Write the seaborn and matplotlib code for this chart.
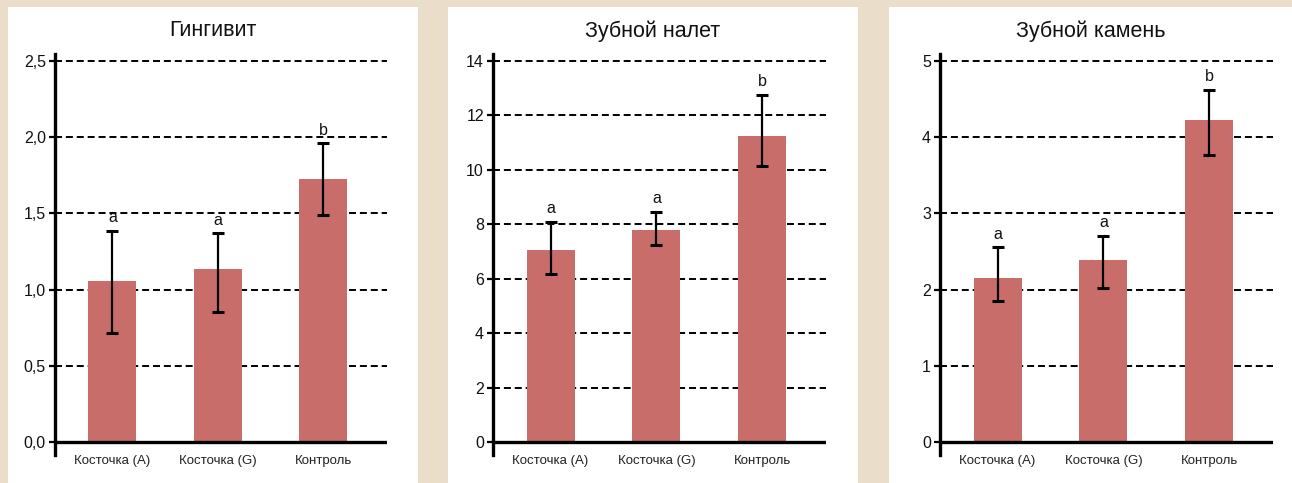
"""Three-panel bar chart: gingivitis, plaque and calculus scores by group."""

import matplotlib

matplotlib.use("Agg")

import matplotlib.pyplot as plt
import pandas as pd
import seaborn as sns
from matplotlib.patches import Rectangle


GROUPS = ["Косточка (A)", "Косточка (G)", "Контроль"]
LETTERS = ["a", "a", "b"]

TITLES = ["Гингивит", "Зубной налет", "Зубной камень"]

GINGIVITIS_MEAN = [1.056, 1.135, 1.726]
GINGIVITIS_LOW = [0.715, 0.85, 1.49]
GINGIVITIS_HIGH = [1.385, 1.37, 1.96]

PLAQUE_MEAN = [7.06, 7.80, 11.25]
PLAQUE_LOW = [6.16, 7.23, 10.14]
PLAQUE_HIGH = [8.09, 8.45, 12.76]

CALCULUS_MEAN = [2.155, 2.39, 4.225]
CALCULUS_LOW = [1.845, 2.015, 3.76]
CALCULUS_HIGH = [2.555, 2.705, 4.62]

GINGIVITIS_TICKS = [0, 0.5, 1.0, 1.5, 2.0, 2.5]
GINGIVITIS_TICKLABELS = ["0,0", "0,5", "1,0", "1,5", "2,0", "2,5"]
PLAQUE_TICKS = [0, 2, 4, 6, 8, 10, 12, 14]
PLAQUE_TICKLABELS = ["0", "2", "4", "6", "8", "10", "12", "14"]
CALCULUS_TICKS = [0, 1, 2, 3, 4, 5]
CALCULUS_TICKLABELS = ["0", "1", "2", "3", "4", "5"]

BG = "#EADDC9"
BAR = "#C86D6A"

W, H = 1292, 483
# white panel boxes (pixel x-ranges) and axis left/right pixel positions
PANEL_X = [(8, 418), (448, 858), (889, 1292)]
AXIS_X = [(55, 387), (493, 826), (940, 1273)]
AX_TOP, AX_BOTTOM, ZERO_Y, TOP_TICK_Y = 54, 455, 442, 61


def draw_panel(ax, title_x, title, mean, low, high, ticks, ticklabels):
    df = pd.DataFrame({"group": GROUPS, "mean": mean, "low": low, "high": high})
    sns.barplot(
        data=df,
        x="group",
        y="mean",
        color=BAR,
        saturation=1,
        width=0.455,
        errorbar=None,
        linewidth=0,
        ax=ax,
    )
    pos = list(range(len(df)))
    yerr = [df["mean"] - df["low"], df["high"] - df["mean"]]
    ax.errorbar(
        pos,
        df["mean"],
        yerr=yerr,
        fmt="none",
        ecolor="black",
        elinewidth=1.6,
        capsize=4.5,
        capthick=2.2,
        zorder=5,
    )
    for x, top, letter in zip(pos, df["high"], LETTERS):
        ax.annotate(
            letter,
            (x, top),
            xytext=(0, 4),
            textcoords="offset points",
            ha="center",
            va="bottom",
            fontsize=11.5,
        )

    # pixel scale: zero line at ZERO_Y, top tick at TOP_TICK_Y
    ymax = ticks[-1]
    ppu = (ZERO_Y - TOP_TICK_Y) / ymax
    ax.set_ylim(-(AX_BOTTOM - ZERO_Y) / ppu, ymax + (TOP_TICK_Y - AX_TOP) / ppu)
    ax.set_xlim(-0.545, 2.605)

    for t in ticks[1:]:
        ax.axhline(t, color="black", lw=1.4, linestyle=(0, (3.6, 2.0)), zorder=0)
    ax.axhline(0, color="black", lw=2.4, zorder=6)

    ax.set_yticks(ticks)
    ax.set_yticklabels(ticklabels)
    ax.tick_params(axis="y", length=4.5, width=1.6, labelsize=11.5, pad=2, direction="out", left=True)
    ax.tick_params(axis="x", length=0, labelsize=9.5, pad=0)
    ax.set_xlabel("")
    ax.set_ylabel("")

    for side in ["top", "right", "bottom"]:
        ax.spines[side].set_visible(False)
    ax.spines["left"].set_linewidth(2.4)
    ax.spines["left"].set_color("black")
    ax.patch.set_alpha(0)

    ax.figure.text(title_x, 1 - 31 / H, title, ha="center", va="center", fontsize=15.5)


def main():
    sns.set_theme(style="white")
    plt.rcParams["font.family"] = ["Liberation Sans", "DejaVu Sans"]
    plt.rcParams["text.color"] = "#111111"
    plt.rcParams["ytick.color"] = "black"
    plt.rcParams["ytick.labelcolor"] = "#111111"
    plt.rcParams["xtick.labelcolor"] = "#222222"

    fig = plt.figure(figsize=(W / 100, H / 100), dpi=100, facecolor=BG)

    for x0, x1 in PANEL_X:
        fig.patches.append(
            Rectangle((x0 / W, 0), (x1 - x0) / W, 1 - 7 / H, transform=fig.transFigure,
                      facecolor="white", edgecolor="none", zorder=-1)
        )

    panels = [
        (GINGIVITIS_MEAN, GINGIVITIS_LOW, GINGIVITIS_HIGH, GINGIVITIS_TICKS, GINGIVITIS_TICKLABELS),
        (PLAQUE_MEAN, PLAQUE_LOW, PLAQUE_HIGH, PLAQUE_TICKS, PLAQUE_TICKLABELS),
        (CALCULUS_MEAN, CALCULUS_LOW, CALCULUS_HIGH, CALCULUS_TICKS, CALCULUS_TICKLABELS),
    ]
    for (ax0, ax1), (p0, p1), title, (mean, low, high, ticks, labels) in zip(AXIS_X, PANEL_X, TITLES, panels):
        ax = fig.add_axes([ax0 / W, 1 - AX_BOTTOM / H, (ax1 - ax0) / W, (AX_BOTTOM - AX_TOP) / H])
        draw_panel(ax, (p0 + p1) / 2 / W, title, mean, low, high, ticks, labels)

    fig.savefig("out.png", dpi=100, facecolor=BG)


if __name__ == "__main__":
    main()
